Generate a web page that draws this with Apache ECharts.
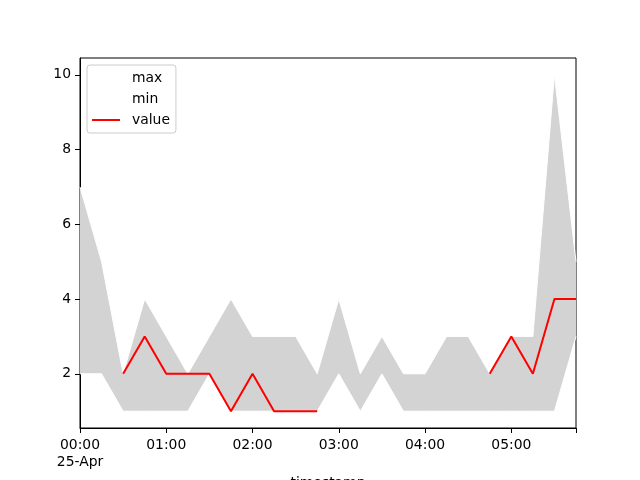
<!DOCTYPE html>
<html>
<head>
<meta charset="utf-8">
<script src="https://cdn.jsdelivr.net/npm/echarts@6/dist/echarts.min.js"></script>
<style>html,body{margin:0;padding:0;background:#fff;}#c{width:640px;height:480px;}</style>
</head>
<body>
<div id="c"></div>
<script>
// timestamps (25-Apr), 15-minute steps
const times = ["00:00","00:15","00:30","00:45","01:00","01:15","01:30","01:45","02:00","02:15","02:30","02:45",
               "03:00","03:15","03:30","03:45","04:00","04:15","04:30","04:45","05:00","05:15","05:30","05:45"];
const maxVals = [7,5,2,4,3,2,3,4,3,3,3,2, 4,2,3,2,2,3,3,2,3,3,10,5];
const minVals = [2,2,1,1,1,1,2,1,1,1,1,1, 2,1,2,1,1,1,1,1,1,1,1,3];
const values  = [null,null,2,3,2,2,2,1,2,1,1,1, null,null,null,null,null,null,null,2,3,2,4,4];
const xTickLabels = {"00:00":"00:00\n25-Apr","01:00":"01:00","02:00":"02:00","03:00":"03:00","04:00":"04:00","05:00":"05:00"};
const yTicks = [2,4,6,8,10];
const legendNames = ["max","min","value"];

const chart = echarts.init(document.getElementById('c'));
const font = 'DejaVu Sans';
const fs = 13.9;
const last = times.length - 1;

chart.setOption({
  animation:false,
  backgroundColor:'#fff',
  textStyle:{fontFamily:font},
  grid:{left:80,right:64,top:58,bottom:52,outerBoundsMode:'none',containLabel:false,
        show:true,borderColor:'#000',borderWidth:1,backgroundColor:'transparent'},
  legend:{
    data:legendNames.map(n=>({name:n, icon:'rect'})),
    orient:'vertical', left:87, top:65,
    itemWidth:28, itemHeight:2, itemGap:7,
    backgroundColor:'rgba(255,255,255,0.8)', borderColor:'#cccccc', borderWidth:1, borderRadius:3,
    padding:[6,6,6,5],
    textStyle:{fontFamily:font,fontSize:fs,color:'#000',padding:[0,0,0,7]},
    selectedMode:false
  },
  xAxis:{
    type:'category', data:times, boundaryGap:false,
    name:'timestamp', nameLocation:'middle', nameGap:40,
    nameTextStyle:{fontFamily:font,fontSize:fs,color:'#000'},
    axisLine:{show:true,lineStyle:{color:'#000',width:1}},
    axisTick:{show:true,length:5,lineStyle:{color:'#000'},
      interval:(i,v)=> (v in xTickLabels) || i===last},
    axisLabel:{color:'#000',fontSize:fs,fontFamily:font,margin:9,lineHeight:17,
      interval:(i,v)=> (v in xTickLabels),
      formatter:v=> xTickLabels[v] || ''},
    splitLine:{show:false}
  },
  yAxis:{
    type:'value', min:0.55, max:10.45,
    axisLine:{show:true,lineStyle:{color:'#000',width:1}},
    axisTick:{show:true,length:5,lineStyle:{color:'#000'},customValues:yTicks},
    axisLabel:{color:'#000',fontSize:fs,fontFamily:font,margin:9,customValues:yTicks},
    splitLine:{show:false}
  },
  series:[
    {name:'_base', type:'line', stack:'band', data:minVals, symbol:'none', lineStyle:{width:0,opacity:0}, silent:true, z:1},
    {name:'_band', type:'line', stack:'band', data:maxVals.map((m,i)=>m-minVals[i]), symbol:'none',
     lineStyle:{width:0,opacity:0}, areaStyle:{color:'#d3d3d3',opacity:1}, silent:true, z:1},
    {name:'max', type:'line', data:maxVals, symbol:'none', color:'#ffffff', lineStyle:{color:'#ffffff',width:1}, z:2},
    {name:'min', type:'line', data:minVals, symbol:'none', color:'#ffffff', lineStyle:{color:'#ffffff',width:1}, z:2},
    {name:'value', type:'line', data:values, symbol:'none', connectNulls:false, color:'#ff0000', lineStyle:{color:'#ff0000',width:2}, z:3}
  ]
});
</script>
</body>
</html>
